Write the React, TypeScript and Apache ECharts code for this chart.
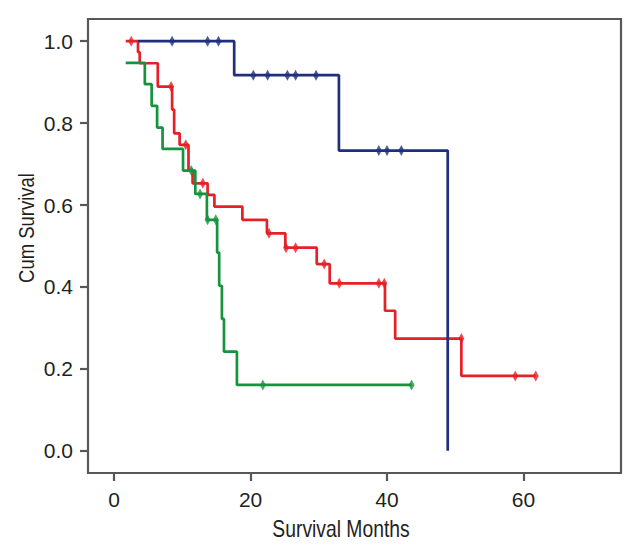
import React, { useEffect, useRef } from "react";
import * as echarts from "echarts";

const xTicks = [0, 20, 40, 60];
const yTicks = [0, 0.2, 0.4, 0.6, 0.8, 1.0];

const blueTimes = [3.5, 17.6, 32.95, 48.9];
const blueSurv = [1.0, 0.917, 0.733, 0.0];
const blueCensored = [8.5, 13.7, 15.3, 20.4, 22.5, 25.4, 26.6, 29.6, 38.8, 40.0, 42.1];

const redTimes = [1.7, 3.5, 3.75, 6.4, 8.5, 8.8, 9.6, 10.9, 11.5, 13.7, 14.7, 18.8, 22.4, 25.1, 29.7, 31.6, 39.7, 41.2, 50.9, 61.8];
const redSurv = [1.0, 0.973, 0.946, 0.889, 0.833, 0.775, 0.747, 0.686, 0.653, 0.625, 0.596, 0.564, 0.531, 0.496, 0.456, 0.409, 0.342, 0.274, 0.183, 0.183];
const redCensored = [2.5, 8.35, 10.5, 13.0, 22.7, 25.2, 26.6, 30.8, 33.0, 38.8, 39.6, 50.9, 58.8, 61.8];

const greenTimes = [1.7, 4.5, 5.5, 6.3, 7.1, 10.1, 11.9, 13.6, 15.1, 15.4, 15.8, 16.1, 18.0, 43.6];
const greenSurv = [0.947, 0.895, 0.842, 0.789, 0.737, 0.684, 0.627, 0.564, 0.484, 0.403, 0.322, 0.242, 0.161, 0.161];
const greenCensored = [11.3, 12.6, 13.7, 14.9, 21.8, 43.6];

const BLUE = "#1f2f7c";
const RED = "#e42127";
const GREEN = "#15933f";
const FONT = "'Liberation Sans', Arial, sans-serif";

const zip = (t: number[], s: number[]) => t.map((v, i) => [v, s[i]]);
const levelAt = (t: number[], s: number[], x: number) => {
  let lvl = s[0];
  for (let i = 0; i < t.length; i++) if (t[i] < x) lvl = s[i];
  return lvl;
};
const censorPts = (t: number[], s: number[], c: number[]) => c.map((x) => [x, levelAt(t, s, x)]);

const lineSeries = (name: string, data: number[][], color: string, z: number) => ({
  name,
  type: "line",
  step: "end",
  data,
  showSymbol: false,
  lineStyle: { color, width: 2.7 },
  z,
});

const censorSeries = (name: string, data: number[][], color: string) => ({
  name: name + " censored",
  type: "scatter",
  data,
  symbol: "diamond",
  symbolSize: [6, 11],
  itemStyle: { color },
  z: 10,
});

export default function App() {
  const ref = useRef<HTMLDivElement>(null);
  useEffect(() => {
    if (!ref.current) return;
    document.body.style.margin = "0";
    const chart = echarts.init(ref.current, null, { renderer: "svg" });
    chart.setOption({
      animation: false,
      backgroundColor: "#ffffff",
      grid: {
        left: 88,
        right: 19,
        top: 19,
        bottom: 82,
        show: true,
        borderColor: "#585858",
        borderWidth: 2.2,
        backgroundColor: "#ffffff",
      },
      xAxis: {
        type: "value",
        min: -3.83,
        max: 74.3,
        axisLine: { show: false, onZero: false },
        splitLine: { show: false },
        axisTick: {
          show: true,
          customValues: xTicks,
          length: 8,
          lineStyle: { color: "#585858", width: 2.2 },
        },
        axisLabel: {
          customValues: xTicks,
          fontSize: 21,
          color: "#231f20",
          margin: 16,
          fontFamily: FONT,
        },
      },
      yAxis: {
        type: "value",
        min: -0.054,
        max: 1.054,
        axisLine: { show: false, onZero: false },
        splitLine: { show: false },
        axisTick: {
          show: true,
          customValues: yTicks,
          length: 8,
          lineStyle: { color: "#585858", width: 2.2 },
        },
        axisLabel: {
          customValues: yTicks,
          fontSize: 21,
          color: "#231f20",
          margin: 15,
          fontFamily: FONT,
          formatter: (v: number) => v.toFixed(1),
        },
      },
      graphic: [
        {
          type: "text",
          x: 341,
          y: 529,
          scaleX: 0.84,
          style: {
            text: "Survival Months",
            fontSize: 23,
            fontFamily: FONT,
            fill: "#231f20",
            align: "center",
            verticalAlign: "middle",
          },
        },
        {
          type: "text",
          x: 26,
          y: 228,
          rotation: Math.PI / 2,
          scaleX: 0.84,
          style: {
            text: "Cum Survival",
            fontSize: 22,
            fontFamily: FONT,
            fill: "#231f20",
            align: "center",
            verticalAlign: "middle",
          },
        },
      ],
      series: [
        lineSeries("Red", zip(redTimes, redSurv), RED, 2),
        lineSeries("Green", zip(greenTimes, greenSurv), GREEN, 3),
        lineSeries("Blue", zip(blueTimes, blueSurv), BLUE, 4),
        censorSeries("Red", censorPts(redTimes, redSurv, redCensored), RED),
        censorSeries("Green", censorPts(greenTimes, greenSurv, greenCensored), GREEN),
        censorSeries("Blue", censorPts(blueTimes, blueSurv, blueCensored), BLUE),
      ],
    });
    return () => chart.dispose();
  }, []);
  return <div ref={ref} style={{ width: 640, height: 555 }} />;
}
